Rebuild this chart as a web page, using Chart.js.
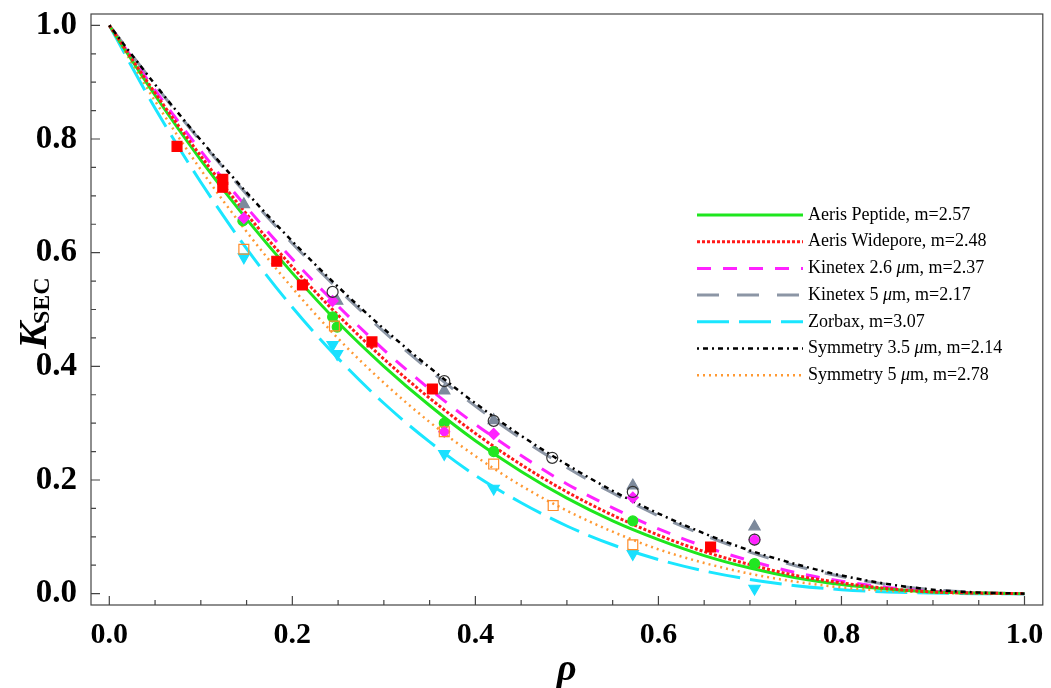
<!DOCTYPE html>
<html>
<head>
<meta charset="utf-8">
<script src="https://cdn.jsdelivr.net/npm/chart.js@4.4.1/dist/chart.umd.min.js"></script>
<style>
html, body { margin: 0; padding: 0; background: #fff; }
#wrap { position: relative; width: 1051px; height: 688px; }
</style>
</head>
<body>
<div id="wrap"><canvas id="kChart" width="1051" height="688"></canvas></div>
<script>
// rho grid for the fitted curves
const rho = [0, 0.05, 0.1, 0.15, 0.2, 0.25, 0.3, 0.35, 0.4, 0.45, 0.5, 0.55, 0.6, 0.65, 0.7, 0.75, 0.8, 0.85, 0.9, 0.95, 1];

// fitted curves
const kPeptide  = [1, 0.877, 0.763, 0.659, 0.564, 0.477, 0.400, 0.331, 0.269, 0.215, 0.168, 0.128, 0.095, 0.067, 0.045, 0.028, 0.016, 0.008, 0.003, 0.001, 0];
const kWidepore = [1, 0.881, 0.770, 0.668, 0.575, 0.490, 0.413, 0.344, 0.282, 0.227, 0.179, 0.138, 0.103, 0.074, 0.051, 0.032, 0.019, 0.009, 0.003, 0.001, 0];
const kKin26    = [1, 0.886, 0.779, 0.680, 0.589, 0.506, 0.429, 0.360, 0.298, 0.243, 0.193, 0.151, 0.114, 0.083, 0.058, 0.037, 0.022, 0.011, 0.004, 0.001, 0];
const kKin5     = [1, 0.895, 0.796, 0.703, 0.616, 0.536, 0.461, 0.393, 0.330, 0.273, 0.222, 0.177, 0.137, 0.103, 0.073, 0.049, 0.030, 0.016, 0.007, 0.002, 0];
const kZorbax   = [1, 0.854, 0.724, 0.607, 0.504, 0.414, 0.335, 0.267, 0.208, 0.160, 0.119, 0.086, 0.060, 0.040, 0.025, 0.014, 0.007, 0.003, 0.001, 0, 0];
const kSym35    = [1, 0.896, 0.798, 0.706, 0.620, 0.540, 0.466, 0.398, 0.335, 0.278, 0.227, 0.181, 0.141, 0.106, 0.076, 0.052, 0.032, 0.017, 0.007, 0.002, 0];
const kSym5     = [1, 0.867, 0.746, 0.637, 0.538, 0.449, 0.371, 0.302, 0.242, 0.190, 0.146, 0.109, 0.078, 0.054, 0.035, 0.021, 0.011, 0.005, 0.002, 0, 0];

// measured points
const ptPeptideX  = [0.146, 0.244, 0.249, 0.366, 0.420, 0.572, 0.705];
const ptPeptideY  = [0.656, 0.487, 0.469, 0.300, 0.250, 0.128, 0.053];
const ptWideporeX = [0.074, 0.124, 0.124, 0.183, 0.211, 0.287, 0.353, 0.657];
const ptWideporeY = [0.787, 0.729, 0.715, 0.585, 0.543, 0.443, 0.360, 0.082];
const ptKin26X    = [0.147, 0.244, 0.366, 0.420, 0.572, 0.705];
const ptKin26Y    = [0.661, 0.515, 0.285, 0.281, 0.169, 0.095];
const ptKin5X     = [0.147, 0.249, 0.366, 0.420, 0.572, 0.705];
const ptKin5Y     = [0.685, 0.515, 0.357, 0.305, 0.190, 0.118];
const ptZorbaxX   = [0.147, 0.244, 0.249, 0.366, 0.420, 0.572, 0.705];
const ptZorbaxY   = [0.592, 0.438, 0.422, 0.246, 0.185, 0.070, 0.009];
const ptSym35X    = [0.244, 0.366, 0.420, 0.484, 0.572, 0.705];
const ptSym35Y    = [0.531, 0.374, 0.304, 0.239, 0.179, 0.095];
const ptSym5X     = [0.147, 0.246, 0.366, 0.420, 0.485, 0.572];
const ptSym5Y     = [0.606, 0.471, 0.285, 0.228, 0.155, 0.086];

const seriesNames = [
    'Aeris Peptide, m=2.57',
    'Aeris Widepore, m=2.48',
    'Kinetex 2.6 μm, m=2.37',
    'Kinetex 5 μm, m=2.17',
    'Zorbax, m=3.07',
    'Symmetry 3.5 μm, m=2.14',
    'Symmetry 5 μm, m=2.78'
];

const majorTicks = [0, 0.2, 0.4, 0.6, 0.8, 1.0];
const minorTicks = [0.05, 0.1, 0.15, 0.25, 0.3, 0.35, 0.45, 0.5, 0.55, 0.65, 0.7, 0.75, 0.85, 0.9, 0.95];

const SERIF = '"Liberation Serif", "Times New Roman", "DejaVu Serif", serif';

const pairs = (xs, ys) => xs.map((x, i) => ({ x: x, y: ys[i] }));

function curve(label, ys, color, dash, width) {
    return {
        type: 'line', label: label, data: pairs(rho, ys),
        borderColor: color, borderDash: dash, borderWidth: width,
        pointRadius: 0, fill: false, cubicInterpolationMode: 'monotone',
        isCurve: true
    };
}

function marks(xs, ys, style, fill, stroke, r, extra) {
    return Object.assign({
        type: 'scatter', data: pairs(xs, ys), pointStyle: style,
        backgroundColor: fill, borderColor: stroke, pointRadius: r,
        pointBorderWidth: 1.2, showLine: false
    }, extra || {});
}

const datasets = [
    marks(ptSym35X, ptSym35Y, 'circle', 'rgba(0,0,0,0)', '#333', 5.5),
    marks(ptSym5X, ptSym5Y, 'rect', 'rgba(0,0,0,0)', '#ff8c2a', 7),
    marks(ptKin26X, ptKin26Y, 'rectRot', '#ff22ff', '#ff22ff', 5.5),
    marks(ptKin5X, ptKin5Y, 'triangle', '#7d8a9c', '#7d8a9c', 6.5),
    marks(ptPeptideX, ptPeptideY, 'circle', '#22e622', '#22e622', 5),
    marks(ptZorbaxX, ptZorbaxY, 'triangle', '#1ae0ff', '#1ae0ff', 6.5, { rotation: 180 }),
    marks(ptWideporeX, ptWideporeY, 'rect', '#ff0000', '#ff0000', 7),
    curve(seriesNames[5], kSym35, '#000000', [2, 4, 5, 4], 2.5),
    curve(seriesNames[1], kWidepore, '#ff1a1a', [3, 2], 3),
    curve(seriesNames[0], kPeptide, '#1ee61e', [], 3),
    curve(seriesNames[2], kKin26, '#ff22ff', [14, 12], 3),
    curve(seriesNames[3], kKin5, '#8c96a5', [22, 18], 3),
    curve(seriesNames[6], kSym5, '#ff9933', [2, 4], 2.5),
    curve(seriesNames[4], kZorbax, '#1ae6ff', [32, 10], 3)
];

// frame, inward ticks, axis titles and the legend
const decorations = {
    id: 'decorations',
    afterDraw(chart) {
        const ctx = chart.ctx;
        const a = chart.chartArea;
        const xs = chart.scales.x, ys = chart.scales.y;
        ctx.save();
        ctx.strokeStyle = '#444';
        ctx.lineWidth = 1.2;
        ctx.strokeRect(a.left, a.top, a.right - a.left, a.bottom - a.top);
        ctx.beginPath();
        majorTicks.forEach(v => {
            const px = xs.getPixelForValue(v);
            ctx.moveTo(px, a.bottom); ctx.lineTo(px, a.bottom - 9);
            const py = ys.getPixelForValue(v);
            ctx.moveTo(a.left, py); ctx.lineTo(a.left + 9, py);
        });
        minorTicks.forEach(v => {
            const px = xs.getPixelForValue(v);
            ctx.moveTo(px, a.bottom); ctx.lineTo(px, a.bottom - 5);
            const py = ys.getPixelForValue(v);
            ctx.moveTo(a.left, py); ctx.lineTo(a.left + 5, py);
        });
        ctx.stroke();

        // axis titles
        ctx.fillStyle = '#000';
        ctx.textBaseline = 'alphabetic';
        ctx.font = 'italic bold 38px ' + SERIF;
        ctx.textAlign = 'center';
        ctx.fillText('ρ', (a.left + a.right) / 2, 680);

        ctx.save();
        ctx.translate(46, 312);
        ctx.rotate(-Math.PI / 2);
        ctx.textAlign = 'left';
        ctx.font = 'italic bold 40px ' + SERIF;
        const wK = ctx.measureText('K').width;
        ctx.font = 'bold 24px ' + SERIF;
        const wS = ctx.measureText('SEC').width;
        const x0 = -(wK + wS) / 2;
        ctx.font = 'italic bold 40px ' + SERIF;
        ctx.fillText('K', x0, 0);
        ctx.font = 'bold 24px ' + SERIF;
        ctx.fillText('SEC', x0 + wK - 2, 3);
        ctx.restore();

        // legend
        const curves = chart.data.datasets.filter(d => d.isCurve);
        seriesNames.forEach((name, i) => {
            const ds = curves.find(d => d.label === name);
            const y = 215 + i * 26.7;
            ctx.beginPath();
            ctx.strokeStyle = ds.borderColor;
            ctx.lineWidth = ds.borderWidth;
            ctx.setLineDash(ds.borderDash);
            ctx.moveTo(697, y); ctx.lineTo(803, y);
            ctx.stroke();
            ctx.setLineDash([]);
            let tx = 808;
            ctx.textBaseline = 'middle';
            ctx.textAlign = 'left';
            name.split(/(μ)/).forEach(part => {
                ctx.font = (part === 'μ' ? 'italic ' : '') + '18px ' + SERIF;
                ctx.fillText(part, tx, y);
                tx += ctx.measureText(part).width;
            });
        });
        ctx.restore();
    }
};

const noPad = s => { s.paddingTop = 0; s.paddingBottom = 0; s.paddingLeft = 0; s.paddingRight = 0; };

new Chart(document.getElementById('kChart'), {
    type: 'line',
    data: { datasets: datasets },
    options: {
        responsive: false,
        animation: false,
        events: [],
        layout: { padding: { top: 14, right: 3, left: 0, bottom: 0 } },
        plugins: { legend: { display: false }, tooltip: { enabled: false } },
        scales: {
            x: {
                type: 'linear', min: -0.02, max: 1.02,
                afterBuildTicks: s => { s.ticks = majorTicks.map(v => ({ value: v })); },
                afterFit: s => { s.height = 83; noPad(s); },
                ticks: { callback: v => v.toFixed(1), font: { family: SERIF, size: 30, weight: 'bold' }, color: '#000', padding: 12, maxRotation: 0, autoSkip: false },
                grid: { display: false, drawTicks: false },
                border: { display: false }
            },
            y: {
                type: 'linear', min: -0.02, max: 1.02,
                afterBuildTicks: s => { s.ticks = majorTicks.map(v => ({ value: v })); },
                afterFit: s => { s.width = 91; noPad(s); },
                ticks: { callback: v => v.toFixed(1), font: { family: SERIF, size: 33, weight: 'bold' }, color: '#000', padding: 14, autoSkip: false },
                grid: { display: false, drawTicks: false },
                border: { display: false }
            }
        }
    },
    plugins: [decorations]
});
</script>
</body>
</html>
